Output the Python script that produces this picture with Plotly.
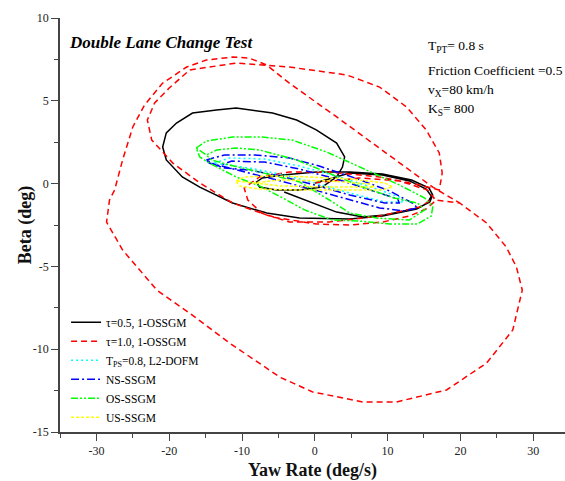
import plotly.graph_objects as go

# Phase-plane trajectories (yaw rate in deg/s, sideslip angle beta in deg)
# for a double lane change manoeuvre under several models.

tau05_r = [0, 4.8, 9.3, 13.0, 15.3, 16.0, 15.5, 14.0, 9.3, 4.8, -2.1, -6.6, -11.3, -15.8,
           -18.2, -20.4, -20.9, -20.4, -19.0, -16.8, -13.5, -10.8, -5.8, -2.5, 0.2, 3.0,
           4.1, 3.8, 3.0, 1.0, -2.1, -5.3, -7.6, -8.0, -7.2, -4.4, 0.2, 4.8, 9.3, 13.3,
           15.7, 16.2, 15.8, 14.2, 9.6, 6.6, 3.0, -1.4, -4.2]
tau05_b = [0.04, 0.64, 0.52, 0.16, -0.33, -0.75, -1.17, -1.53, -1.96, -2.14, -2.08, -1.78,
           -1.17, -0.21, 0.40, 1.43, 2.21, 3.06, 3.66, 4.26, 4.44, 4.57, 4.26, 3.84, 3.24,
           2.45, 1.61, 1.00, 0.40, -0.21, -0.39, -0.39, -0.21, 0.10, 0.34, 0.52, 0.70,
           0.70, 0.58, 0.22, -0.27, -0.69, -1.11, -1.47, -1.90, -2.02, -1.72, -0.99, -0.51]

tau10_r = [0, 6.1, 11.6, 15.5, 16.4, 14.4, 8.9, 2.0, -3.5, -7.3, -9.2, -9.7, -7.6, -3.5,
           2.0, 8.9, 14.4, 17.1,
           17.5, 17.1, 15.3, 12.6, 8.9, 4.4, -3.5, -10.8, -17.2, -20.0, -22.0, -23.0,
           -22.4, -19.5, -15.8, -11.3, -5.8, 0.2, 4.8, 9.3, 13.0, 15.3, 16.7,
           19.9, 23.6, 26.3, 27.7, 28.5, 27.2, 23.6, 18.1, 11.2, 6.6, -0.3, -4.8, -11.7,
           -17.2, -21.7, -26.4, -28.6, -28.2, -27.5, -26.4, -25.0, -23.4, -20.9, -17.6,
           -14.9, -11.3, -9.0, -6.6, -4.8, -3.5, 3.4, 11.6, 16.2, 19.9]
tau10_b = [0.04, 0.34, 0.16, -0.39, -0.87, -1.41, -1.96, -2.32, -2.32, -1.78, -0.99, -0.27,
           0.40, 0.70, 0.70, 0.40, -0.08, -0.39,
           0.64, 1.85, 3.24, 4.63, 5.83, 6.56, 7.04, 7.28, 6.86, 5.77, 4.87, 3.84,
           2.63, 1.24, 0.04, -1.17, -2.02, -2.44, -2.50, -2.32, -1.96, -1.53, -0.99,
           -1.17, -2.38, -3.83, -5.04, -6.43, -8.84, -10.84, -12.46, -13.19, -13.19,
           -12.58, -11.69, -9.63, -7.82, -6.43, -4.01, -2.32, -0.99, -0.39, 1.43, 3.42,
           4.74, 6.07, 7.04, 7.46, 7.64, 7.58, 7.16, 6.56, 6.07, 3.90, 1.24, -0.21, -1.17]

tps_r = [-13.8, -11.7, -6.9, -2.1, 3.4, 8.2, 11.6, 12.3, 9.6, 4.8, 0, -4.8, -9.0, -12.4, -13.8]
tps_b = [1.24, 1.55, 1.48, 1.06, 0.40, -0.27, -0.81, -1.11, -1.11, -0.57, 0.04, 0.58, 0.94,
         1.12, 1.24]

ns_r = [-14.9, -12.4, -8.3, -3.5, 0.6, 5.5, 10.3, 13.4, 14.1, 12.3, 8.9, 4.1, 0, -4.2, -8.3,
        -11.7, -14.5, -14.9,
        -13.3, -11.4, -6.9, -2.1, 3.4, 8.2, 11.4, 11.6, 9.6, 4.8, 0, -4.8, -9.0, -12.4, -13.3]
ns_b = [1.43, 1.73, 1.73, 1.55, 1.06, 0.34, -0.45, -1.17, -1.47, -1.65, -1.47, -0.87, -0.39,
        0.10, 0.58, 0.94, 1.24, 1.43,
        1.06, 1.36, 1.30, 0.88, 0.22, -0.45, -0.93, -1.17, -1.17, -0.69, -0.08, 0.46, 0.82,
        0.94, 1.06]

os_r = [-16.3, -14.9, -11.3, -7.2, -3.1, 1.6, 7.1, 11.6, 15.1, 16.2, 16.0, 14.1, 10.3, 6.1,
        2.4, -1.4, -4.4, -7.6, -10.8, -14.5, -15.8, -16.3,
        -14.9, -13.5, -10.8, -7.6, -2.5, 2.0, 6.6, 10.9, 14.1, 15.1, 13.0, 8.5, 4.8, 2.0,
        -2.1, -7.6, -11.7, -14.2, -14.9]
os_b = [2.15, 2.57, 2.81, 2.81, 2.63, 1.91, 0.82, -0.08, -0.87, -1.41, -1.96, -2.44, -2.44,
        -2.26, -2.20, -1.59, -0.87, -0.14, 0.40, 1.24, 1.61, 2.15,
        1.73, 2.03, 2.15, 2.03, 1.43, 0.64, -0.21, -0.87, -1.17, -1.59, -2.20, -2.08, -1.78,
        -0.99, 0.10, 0.70, 1.12, 1.43, 1.73]

us_r = [-10.8, -9.7, -6.2, -0.7, 4.8, 9.6, 10.7, 8.9, 3.4, -2.1, -7.6, -10.4, -10.8,
        -8.3, -4.8, 2.0, 7.5, 8.2, 2.0, -4.8, -8.3]
us_b = [0.16, 0.40, 0.46, 0.40, 0.28, 0.04, -0.21, -0.39, -0.39, -0.39, -0.33, -0.14, 0.16,
        0.04, 0.22, 0.16, -0.02, -0.21, -0.21, -0.14, 0.04]

x_ticks = [-30, -20, -10, 0, 10, 20, 30]
y_ticks = [-15, -10, -5, 0, 5, 10]

series = [
    ("\u03c4=0.5, 1-OSSGM", tau05_r, tau05_b, "#000000", "solid"),
    ("\u03c4=1.0, 1-OSSGM", tau10_r, tau10_b, "#FF0000", "6px,4px"),
    ("T<sub>PS</sub>=0.8, L2-DOFM", tps_r, tps_b, "#00FFFF", "2px,3px"),
    ("NS-SSGM", ns_r, ns_b, "#0000FF", "8px,3px,2px,3px"),
    ("OS-SSGM", os_r, os_b, "#00FF00", "7px,2px,2px,2px,2px,2px"),
    ("US-SSGM", us_r, us_b, "#FFFF00", "3px,2px"),
]

serif = "Liberation Serif"

fig = go.Figure()
for name, r, b, color, dash in series:
    fig.add_trace(go.Scatter(
        x=r, y=b, mode="lines", name=name,
        line=dict(color=color, width=1.5, dash=dash),
    ))

axis_common = dict(
    showline=True, linecolor="#444444", linewidth=1.5,
    ticks="outside", ticklen=7, tickwidth=1.2, tickcolor="#444444",
    showgrid=False, zeroline=False,
    tickfont=dict(family=serif, size=12, color="#222222"),
    minor=dict(ticks="outside", ticklen=4, tickwidth=1.2, tickcolor="#444444"),
)

fig.update_xaxes(
    range=[-35, 34.37], tickvals=x_ticks, ticktext=[str(v) for v in x_ticks],
    minor_dtick=5, minor_tick0=-35,
    title=dict(text="<b>Yaw Rate (deg/s)</b>", font=dict(family=serif, size=18, color="#111"),
               standoff=8),
    **axis_common,
)
fig.update_yaxes(
    range=[-15, 10], tickvals=y_ticks, ticktext=[str(v) for v in y_ticks],
    minor_dtick=2.5, minor_tick0=-15,
    **axis_common,
)

notes = [
    ("T<sub>PT</sub>= 0.8 s", 0.930),
    ("Friction Coefficient =0.5", 0.874),
    ("v<sub>X</sub>=80 km/h", 0.826),
    ("K<sub>S</sub>= 800", 0.778),
]
annotations = [
    dict(text="<b><i>Double Lane Change Test</i></b>", x=0.014, y=0.94,
         xref="paper", yref="paper", xanchor="left", yanchor="middle", showarrow=False,
         font=dict(family=serif, size=17, color="#000")),
    dict(text="<b>Beta (deg)</b>", x=-0.069, y=0.5, xref="paper", yref="paper",
         xanchor="center", yanchor="middle", showarrow=False, textangle=-90,
         font=dict(family=serif, size=18, color="#111")),
]
for txt, yy in notes:
    annotations.append(dict(
        text=txt, x=0.725, y=yy, xref="paper", yref="paper",
        xanchor="left", yanchor="middle", showarrow=False,
        font=dict(family=serif, size=13.5, color="#000"),
    ))

fig.update_layout(
    width=565, height=481,
    margin=dict(l=60, r=0, t=18, b=49),
    paper_bgcolor="white", plot_bgcolor="white",
    showlegend=True,
    legend=dict(
        x=0.012, y=0.30, xanchor="left", yanchor="top",
        bgcolor="rgba(0,0,0,0)", borderwidth=0,
        font=dict(family=serif, size=11.5, color="#000"),
        itemwidth=30, tracegroupgap=0,
    ),
    annotations=annotations,
)

fig.write_html("out.html")
